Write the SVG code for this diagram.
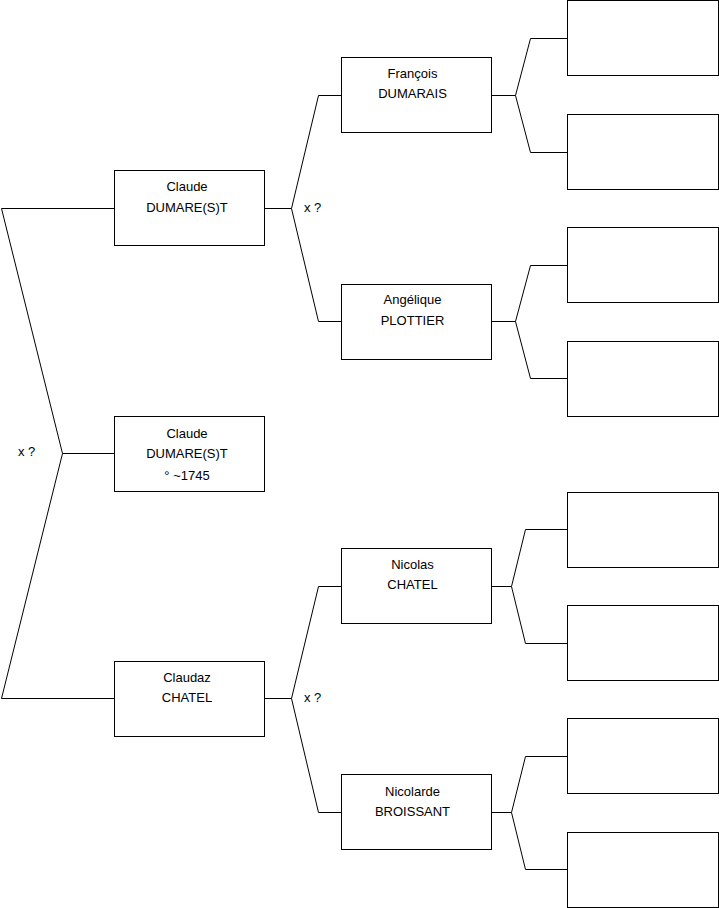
<svg xmlns="http://www.w3.org/2000/svg" width="719" height="908" viewBox="0 0 719 908">
<style>
.box{fill:#fff;stroke:#000;stroke-width:1}
.ln{fill:none;stroke:#000;stroke-width:1}
text{font-family:"Liberation Sans",Arial,sans-serif;font-size:13px;fill:#000;text-anchor:middle}
.lbl{text-anchor:start}
</style>
<rect width="719" height="908" fill="#fff"/>
<g id="connectors">
<polyline class="ln" points="114,208.5 1.5,208.5 62.5,453.5 1.5,698.5 114,698.5"/>
<line class="ln" x1="62.5" y1="453.5" x2="114" y2="453.5"/>
<polyline class="ln" points="341,95.5 318.5,95.5 291.5,208.5 318.5,321.5 341,321.5"/>
<line class="ln" x1="265" y1="208.5" x2="291.5" y2="208.5"/>
<polyline class="ln" points="341,586.5 318.5,586.5 291.5,698.5 318.5,812.5 341,812.5"/>
<line class="ln" x1="265" y1="698.5" x2="291.5" y2="698.5"/>
<polyline class="ln" points="567,38.5 530.5,38.5 515.5,95.5 530.5,152.5 567,152.5"/>
<line class="ln" x1="491" y1="95.5" x2="515.5" y2="95.5"/>
<polyline class="ln" points="567,265.5 530.5,265.5 515.5,321.5 530.5,378.5 567,378.5"/>
<line class="ln" x1="491" y1="321.5" x2="515.5" y2="321.5"/>
<polyline class="ln" points="567,529.5 525.5,529.5 511.5,586.5 525.5,643.5 567,643.5"/>
<line class="ln" x1="491" y1="586.5" x2="511.5" y2="586.5"/>
<polyline class="ln" points="567,756.5 525.5,756.5 511.5,812.5 525.5,869.5 567,869.5"/>
<line class="ln" x1="491" y1="812.5" x2="511.5" y2="812.5"/>
<text class="lbl" x="18" y="456">x ?</text>
<text class="lbl" x="304" y="212">x ?</text>
<text class="lbl" x="304" y="702">x ?</text>
</g>
<g id="claude-father">
<rect class="box" x="114.5" y="170.5" width="150" height="75"/>
<text x="187" y="191">Claude</text>
<text x="187" y="212">DUMARE(S)T</text>
</g>
<g id="claude-root">
<rect class="box" x="114.5" y="416.5" width="150" height="75"/>
<text x="187" y="438">Claude</text>
<text x="187" y="458">DUMARE(S)T</text>
<text x="187" y="480">° ~1745</text>
</g>
<g id="claudaz">
<rect class="box" x="114.5" y="661.5" width="150" height="75"/>
<text x="187" y="682">Claudaz</text>
<text x="187" y="702">CHATEL</text>
</g>
<g id="francois">
<rect class="box" x="341.5" y="57.5" width="150" height="75"/>
<text x="412.5" y="78">François</text>
<text x="412.5" y="98">DUMARAIS</text>
</g>
<g id="angelique">
<rect class="box" x="341.5" y="284.5" width="150" height="75"/>
<text x="412.5" y="304">Angélique</text>
<text x="412.5" y="325">PLOTTIER</text>
</g>
<g id="nicolas">
<rect class="box" x="341.5" y="548.5" width="150" height="75"/>
<text x="412.5" y="569">Nicolas</text>
<text x="412.5" y="589">CHATEL</text>
</g>
<g id="nicolarde">
<rect class="box" x="341.5" y="774.5" width="150" height="75"/>
<text x="412.5" y="796">Nicolarde</text>
<text x="412.5" y="816">BROISSANT</text>
</g>
<g id="gp1"><rect class="box" x="567.5" y="0.5" width="151" height="75"/></g>
<g id="gp2"><rect class="box" x="567.5" y="114.5" width="151" height="75"/></g>
<g id="gp3"><rect class="box" x="567.5" y="227.5" width="151" height="75"/></g>
<g id="gp4"><rect class="box" x="567.5" y="341.5" width="151" height="75"/></g>
<g id="gp5"><rect class="box" x="567.5" y="492.5" width="151" height="75"/></g>
<g id="gp6"><rect class="box" x="567.5" y="605.5" width="151" height="75"/></g>
<g id="gp7"><rect class="box" x="567.5" y="718.5" width="151" height="75"/></g>
<g id="gp8"><rect class="box" x="567.5" y="832.5" width="151" height="75"/></g>
</svg>
